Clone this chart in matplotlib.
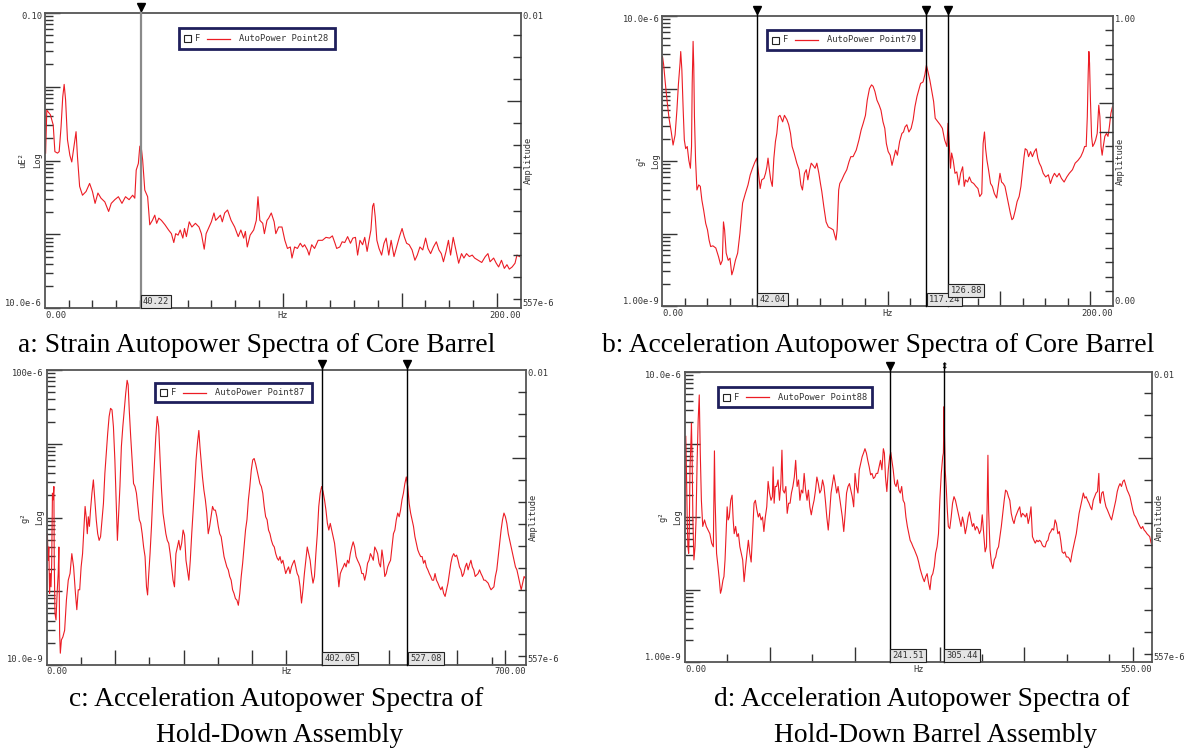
import numpy as np
import matplotlib
matplotlib.use("Agg")
import matplotlib.pyplot as plt
from matplotlib.patches import Rectangle
from matplotlib.lines import Line2D
from matplotlib.ticker import LogLocator, FixedLocator
from matplotlib.transforms import blended_transform_factory

W, H = 1185, 751
RED = "#ec1c24"
INK = "#333333"
MONO = "DejaVu Sans Mono"
SERIF = "Liberation Serif"
plt.rcParams["font.family"] = MONO

# ---- data (levels are log10 of the y value) ----
# a: strain, uE^2
a_freq = [0.3, 0.8, 2.3, 3.5, 4.2, 5.3, 6.0, 6.8, 7.5, 8.1,
          8.7, 9.5, 10.5, 11.3, 12.2, 13.1, 13.7, 14.6, 15.8, 17.3,
          18.8, 20.0, 21.1, 22.3, 23.6, 25.2, 26.8, 27.9, 29.4, 30.9,
          32.4, 33.9, 35.4, 36.9, 37.8, 38.4, 39.3, 39.9, 40.4, 41.1,
          42.0, 43.2, 44.1, 45.2, 46.2, 47.0, 47.9, 49.0, 50.5, 52.0,
          53.2, 54.2, 55.0, 56.0, 56.9, 58.0, 58.7, 59.5, 60.7, 61.8,
          63.3, 64.8, 65.8, 67.0, 67.8, 68.5, 70.0, 71.1, 71.8, 72.7,
          73.8, 74.6, 75.6, 76.8, 78.3, 79.8, 81.3, 82.4, 83.6, 84.3,
          85.1, 86.3, 87.8, 88.9, 89.6, 90.4, 91.6, 92.3, 93.4, 94.1,
          95.2, 96.4, 97.1, 98.3, 99.7, 100.9, 102.0, 103.2, 103.9, 105.0,
          106.2, 107.4, 108.4, 109.2, 110.4, 111.1, 112.2, 113.4, 114.9, 116.7,
          118.2, 119.7, 120.9, 122.0, 122.7, 124.0, 125.0, 126.1, 127.3, 128.5,
          129.5, 130.6, 131.5, 132.5, 133.6, 134.5, 135.5, 136.3, 137.1, 137.8,
          138.3, 138.9, 139.6, 140.5, 141.6, 142.6, 143.5, 144.6, 145.6, 146.8,
          147.9, 149.1, 150.2, 151.1, 152.1, 153.2, 154.4, 155.6, 156.6, 157.7,
          158.9, 160.1, 161.1, 162.2, 163.4, 164.6, 165.7, 166.7, 167.6, 168.7,
          169.7, 170.6, 171.7, 172.7, 174.0, 175.2, 176.2, 177.3, 178.5, 179.7,
          180.7, 182.2, 183.7, 185.2, 186.3, 187.2, 188.7, 189.8, 190.8, 192.0,
          193.2, 194.3, 195.3, 196.5, 197.7, 198.5, 199.6]
a_level = [-2.90, -2.32, -2.38, -2.52, -2.88, -2.90, -2.88, -2.54, -2.14, -1.97,
           -2.18, -2.72, -2.93, -3.02, -2.81, -2.61, -2.95, -3.35, -3.47, -3.42,
           -3.31, -3.42, -3.58, -3.44, -3.51, -3.56, -3.69, -3.58, -3.53, -3.49,
           -3.58, -3.49, -3.53, -3.47, -3.51, -3.13, -3.04, -2.81, -2.79, -2.99,
           -3.40, -3.49, -3.87, -3.81, -3.74, -3.85, -3.78, -3.81, -3.87, -3.94,
           -3.99, -4.11, -3.99, -4.01, -3.94, -4.05, -3.92, -4.03, -3.83, -3.90,
           -3.85, -3.90, -3.99, -4.20, -3.99, -3.94, -3.83, -3.71, -3.81, -3.78,
           -3.74, -3.83, -3.71, -3.67, -3.81, -3.90, -4.03, -3.94, -4.05, -3.96,
           -4.17, -4.01, -3.94, -3.81, -3.49, -3.81, -3.85, -3.99, -3.81, -3.78,
           -3.71, -3.83, -3.99, -3.90, -3.90, -4.08, -4.19, -4.17, -4.32, -4.17,
           -4.19, -4.12, -4.17, -4.14, -4.21, -4.28, -4.14, -4.19, -4.08, -4.08,
           -4.04, -4.05, -4.02, -4.12, -4.19, -4.17, -4.10, -4.11, -4.03, -4.12,
           -4.05, -4.04, -4.28, -4.08, -4.14, -4.04, -4.23, -4.08, -3.94, -3.62,
           -3.58, -3.76, -4.08, -4.19, -4.28, -4.12, -4.05, -4.28, -4.08, -4.30,
           -4.17, -4.03, -3.92, -4.03, -4.12, -4.14, -4.21, -4.35, -4.28, -4.17,
           -4.21, -4.05, -4.19, -4.26, -4.17, -4.10, -4.21, -4.26, -4.37, -4.23,
           -4.08, -4.28, -4.04, -4.19, -4.39, -4.26, -4.32, -4.26, -4.30, -4.28,
           -4.32, -4.35, -4.38, -4.30, -4.26, -4.37, -4.32, -4.39, -4.44, -4.35,
           -4.46, -4.41, -4.47, -4.44, -4.39, -4.28, -4.30]

# b: acceleration, core barrel, g^2
b_freq = [0.0, 0.5, 1.2, 2.0, 2.9, 3.9, 4.7, 5.6, 6.4, 7.1,
          7.8, 8.1, 8.6, 9.2, 9.7, 10.3, 11.0, 11.7, 12.4, 12.9,
          13.2, 13.6, 13.9, 14.2, 14.7, 15.3, 16.1, 16.8, 17.5, 18.3,
          19.2, 20.0, 20.7, 21.4, 22.4, 23.7, 24.9, 25.8, 26.6, 27.1,
          27.6, 28.3, 29.2, 30.0, 30.8, 31.5, 32.4, 33.4, 34.4, 35.6,
          36.8, 38.0, 39.0, 40.0, 41.0, 41.9, 42.5, 43.4, 44.1, 45.1,
          45.8, 46.4, 46.9, 47.5, 48.1, 48.8, 49.5, 50.2, 50.8, 51.5,
          52.2, 53.4, 54.2, 55.3, 56.1, 56.9, 57.6, 58.5, 59.7, 60.7,
          61.5, 62.2, 63.1, 63.9, 64.6, 65.4, 66.1, 66.9, 67.8, 68.6,
          69.5, 70.2, 70.8, 71.7, 72.7, 73.7, 74.9, 75.9, 77.1, 77.6,
          78.3, 78.8, 79.7, 80.7, 81.9, 82.9, 83.7, 84.7, 86.1, 87.3,
          88.3, 89.2, 90.2, 91.0, 92.0, 92.9, 93.6, 94.4, 95.3, 96.3,
          97.1, 98.0, 98.8, 99.5, 100.3, 101.2, 102.0, 102.9, 103.6, 104.4,
          105.4, 106.4, 107.1, 107.8, 108.6, 109.5, 110.5, 111.4, 112.2, 113.1,
          113.9, 114.7, 115.8, 116.6, 117.3, 118.0, 118.8, 119.7, 120.5, 121.2,
          122.4, 123.4, 124.4, 125.4, 126.4, 126.9, 127.5, 128.0, 128.5, 129.2,
          130.0, 130.8, 131.7, 132.5, 133.4, 134.1, 134.7, 135.6, 136.4, 137.3,
          138.3, 139.3, 140.2, 141.0, 141.9, 142.5, 143.1, 143.6, 144.2, 144.9,
          145.8, 146.6, 147.5, 148.5, 149.2, 150.0, 150.7, 151.4, 152.2, 153.1,
          153.7, 154.6, 155.3, 155.9, 156.8, 157.6, 158.5, 159.3, 160.2, 160.7,
          161.2, 162.0, 162.7, 163.6, 164.4, 165.3, 166.1, 166.8, 167.5, 168.3,
          169.2, 170.3, 171.5, 172.4, 173.4, 174.2, 175.3, 176.3, 177.3, 178.5,
          179.7, 180.8, 182.2, 183.4, 184.7, 185.9, 186.9, 187.6, 188.3, 188.8,
          189.2, 189.5, 189.8, 190.2, 190.7, 191.2, 191.9, 192.5, 193.2, 193.9,
          194.4, 194.9, 195.4, 195.9, 196.6, 197.3, 198.0, 198.6, 199.3, 200.0]
b_level = [-5.56, -5.67, -5.91, -6.16, -6.41, -6.60, -6.78, -6.64, -6.30, -5.93,
           -5.65, -5.49, -5.74, -6.30, -6.71, -6.83, -6.80, -6.99, -7.10, -6.80,
           -5.93, -5.35, -5.70, -6.39, -6.99, -7.40, -7.33, -7.35, -7.54, -7.68,
           -7.86, -7.95, -8.09, -8.18, -8.17, -8.20, -8.32, -8.43, -8.37, -7.84,
           -7.95, -8.27, -8.37, -8.34, -8.57, -8.50, -8.37, -8.27, -8.00, -7.58,
           -7.45, -7.33, -7.19, -7.10, -7.02, -6.96, -7.12, -7.38, -7.26, -7.24,
           -7.17, -7.08, -6.96, -7.12, -7.26, -7.35, -6.96, -6.73, -6.62, -6.39,
           -6.37, -6.46, -6.37, -6.43, -6.50, -6.62, -6.80, -6.89, -7.03, -7.12,
           -7.33, -7.40, -7.17, -7.12, -7.26, -7.12, -7.03, -7.06, -7.10, -7.03,
           -7.17, -7.31, -7.42, -7.63, -7.84, -7.91, -7.93, -7.95, -8.09, -7.95,
           -7.40, -7.31, -7.26, -7.19, -7.12, -7.01, -6.94, -6.94, -6.85, -6.71,
           -6.57, -6.48, -6.37, -6.16, -6.00, -5.95, -5.97, -6.04, -6.16, -6.23,
           -6.30, -6.46, -6.55, -6.76, -6.87, -6.92, -7.06, -6.94, -6.85, -6.92,
           -6.73, -6.62, -6.60, -6.53, -6.50, -6.60, -6.55, -6.43, -6.25, -6.11,
           -6.02, -5.93, -5.91, -5.81, -5.68, -5.77, -5.88, -6.04, -6.18, -6.41,
           -6.46, -6.50, -6.55, -6.71, -6.80, -6.48, -6.80, -7.10, -6.89, -6.99,
           -7.17, -7.15, -7.33, -7.17, -7.08, -7.35, -7.26, -7.29, -7.22, -7.29,
           -7.31, -7.35, -7.38, -7.49, -7.45, -6.76, -6.60, -6.83, -6.99, -7.12,
           -7.31, -7.35, -7.45, -7.51, -7.35, -7.17, -7.29, -7.31, -7.35, -7.49,
           -7.58, -7.72, -7.81, -7.79, -7.68, -7.56, -7.49, -7.35, -7.08, -6.94,
           -6.83, -6.85, -6.94, -6.87, -6.94, -6.87, -6.83, -6.96, -7.03, -7.08,
           -7.17, -7.22, -7.19, -7.31, -7.22, -7.17, -7.22, -7.17, -7.24, -7.29,
           -7.22, -7.17, -7.12, -7.03, -6.99, -6.94, -6.87, -6.80, -6.80, -6.39,
           -5.79, -5.49, -5.65, -6.16, -6.66, -6.80, -6.76, -6.71, -6.62, -6.23,
           -6.39, -6.80, -6.92, -6.80, -6.66, -6.62, -6.66, -6.53, -6.34, -6.25]

# c: acceleration, hold-down assembly, g^2
c_freq = [1.0, 2.1, 3.1, 4.2, 5.2, 6.3, 7.3, 8.4, 9.4, 10.5,
          11.0, 12.1, 13.6, 15.2, 16.8, 17.8, 18.9, 19.9, 21.5, 23.6,
          26.2, 28.8, 31.5, 34.1, 36.7, 39.3, 42.0, 44.0, 46.1, 48.2,
          50.3, 52.4, 54.5, 56.1, 57.7, 59.3, 60.8, 62.4, 64.0, 66.1,
          68.2, 70.3, 72.4, 74.5, 76.6, 78.7, 80.8, 82.9, 85.0, 87.0,
          89.1, 91.2, 93.3, 95.4, 97.5, 99.6, 101.7, 103.3, 104.9, 107.0,
          109.1, 111.2, 113.3, 115.4, 117.5, 119.0, 120.6, 122.7, 124.8, 126.9,
          129.0, 131.1, 133.2, 135.3, 137.4, 139.5, 141.6, 143.7, 145.8, 147.4,
          148.9, 151.0, 153.1, 155.2, 157.3, 159.4, 161.5, 163.6, 165.7, 167.8,
          169.9, 172.0, 174.1, 176.2, 178.3, 180.4, 182.5, 184.6, 186.7, 188.8,
          190.9, 193.0, 195.1, 197.2, 199.3, 201.4, 203.5, 205.6, 207.7, 209.8,
          211.9, 214.0, 216.1, 218.2, 220.3, 222.3, 223.9, 225.5, 227.6, 229.7,
          231.8, 233.9, 236.0, 238.1, 240.2, 242.3, 244.4, 246.5, 248.6, 250.7,
          252.8, 254.9, 257.0, 259.1, 261.1, 263.2, 265.3, 267.4, 269.5, 271.6,
          273.7, 275.8, 277.9, 280.0, 282.1, 284.2, 286.3, 288.4, 290.5, 292.6,
          294.7, 296.8, 298.9, 301.0, 303.1, 305.2, 307.3, 309.4, 311.5, 313.6,
          315.7, 317.8, 319.9, 322.0, 324.1, 326.2, 328.3, 330.4, 332.5, 334.6,
          336.7, 338.8, 340.9, 343.0, 345.1, 347.2, 349.2, 351.3, 353.4, 355.5,
          357.6, 359.7, 361.8, 363.9, 366.0, 368.1, 370.2, 372.3, 374.4, 376.5,
          378.6, 380.7, 382.8, 384.9, 387.0, 389.1, 391.2, 393.3, 395.4, 397.5,
          399.6, 401.7, 403.8, 405.9, 408.0, 410.1, 412.2, 414.3, 416.4, 418.5,
          420.6, 422.7, 424.8, 426.9, 429.0, 431.1, 433.2, 435.3, 437.4, 439.5,
          441.5, 443.6, 445.7, 447.8, 449.9, 452.0, 454.1, 456.2, 458.3, 460.4,
          462.5, 464.6, 466.7, 468.8, 470.9, 473.0, 475.1, 477.2, 479.3, 481.4,
          483.5, 485.6, 487.7, 489.8, 491.9, 494.0, 496.1, 498.2, 500.3, 502.4,
          504.5, 506.6, 508.7, 510.8, 512.9, 515.0, 517.0, 519.1, 521.2, 523.3,
          525.4, 527.5, 529.6, 531.7, 533.8, 535.9, 538.0, 540.1, 542.2, 544.3,
          546.4, 548.5, 550.6, 552.7, 554.8, 556.9, 559.0, 561.1, 563.2, 565.3,
          567.4, 569.5, 571.6, 573.7, 575.8, 577.9, 580.0, 582.1, 584.2, 586.3,
          588.4, 590.5, 592.6, 594.7, 596.8, 598.9, 601.0, 603.1, 605.2, 607.3,
          609.4, 611.5, 613.6, 615.7, 617.7, 619.8, 621.9, 624.0, 626.1, 628.2,
          630.3, 632.4, 634.5, 636.6, 638.7, 640.8, 642.9, 645.0, 647.1, 649.2,
          651.3, 653.4, 655.5, 657.6, 659.7, 661.8, 663.9, 666.0, 668.1, 670.2,
          672.3, 674.4, 676.5, 678.6, 680.7, 682.8, 684.9, 687.0, 689.1, 691.2,
          693.3, 695.4, 697.5, 700.0]
c_level = [-6.22, -6.58, -6.40, -7.03, -6.76, -6.94, -6.62, -5.67, -5.76, -5.58,
           -6.58, -7.30, -7.39, -7.03, -6.76, -6.40, -7.57, -7.84, -7.66, -7.62,
           -7.53, -7.12, -6.85, -6.76, -6.49, -6.67, -7.03, -7.25, -6.98, -6.98,
           -6.67, -6.49, -6.12, -5.85, -5.99, -6.22, -5.99, -6.12, -5.90, -5.67,
           -5.49, -5.76, -6.03, -6.22, -6.31, -6.26, -6.03, -5.81, -5.40, -5.13,
           -4.86, -4.63, -4.52, -4.54, -4.77, -5.22, -5.85, -6.31, -5.99, -5.58,
           -5.04, -4.77, -4.54, -4.32, -4.14, -4.20, -4.54, -4.90, -5.22, -5.54,
           -5.58, -5.67, -5.85, -6.03, -6.08, -6.22, -6.40, -6.53, -6.94, -7.05,
           -6.80, -6.49, -6.12, -5.67, -5.27, -4.90, -4.63, -4.77, -5.22, -5.63,
           -5.94, -6.08, -6.22, -6.31, -6.35, -6.49, -6.67, -6.85, -6.94, -6.49,
           -6.40, -6.31, -6.44, -6.35, -6.17, -6.24, -6.58, -6.71, -6.85, -6.58,
           -6.22, -5.90, -5.58, -5.22, -4.99, -4.82, -5.04, -5.22, -5.45, -5.63,
           -5.76, -5.94, -6.22, -6.12, -5.99, -5.85, -5.90, -5.90, -5.99, -6.12,
           -6.22, -6.26, -6.40, -6.53, -6.60, -6.67, -6.71, -6.80, -6.85, -6.98,
           -7.03, -7.10, -7.12, -7.19, -7.03, -6.80, -6.62, -6.40, -6.17, -6.03,
           -5.76, -5.58, -5.36, -5.22, -5.20, -5.27, -5.36, -5.45, -5.54, -5.58,
           -5.67, -5.85, -5.99, -6.03, -6.17, -6.22, -6.31, -6.37, -6.40, -6.49,
           -6.55, -6.58, -6.53, -6.62, -6.58, -6.67, -6.76, -6.71, -6.67, -6.76,
           -6.67, -6.62, -6.58, -6.67, -6.76, -6.80, -6.94, -7.16, -6.98, -6.76,
           -6.58, -6.40, -6.49, -6.58, -6.76, -6.89, -6.80, -6.49, -6.22, -5.85,
           -5.67, -5.58, -5.65, -5.76, -5.90, -6.08, -6.17, -6.08, -6.17, -6.26,
           -6.35, -6.53, -6.71, -6.94, -6.76, -6.71, -6.67, -6.62, -6.67, -6.58,
           -6.62, -6.49, -6.40, -6.33, -6.40, -6.53, -6.58, -6.62, -6.67, -6.76,
           -6.76, -6.85, -6.76, -6.62, -6.58, -6.49, -6.53, -6.58, -6.40, -6.44,
           -6.49, -6.62, -6.67, -6.44, -6.58, -6.80, -6.76, -6.67, -6.62, -6.58,
           -6.40, -6.22, -6.17, -6.03, -5.94, -5.99, -5.90, -5.76, -5.67, -5.54,
           -5.45, -5.58, -5.81, -5.94, -6.03, -6.12, -6.26, -6.35, -6.44, -6.49,
           -6.53, -6.53, -6.62, -6.58, -6.67, -6.71, -6.76, -6.80, -6.85, -6.85,
           -6.76, -6.85, -6.89, -6.94, -6.98, -6.94, -7.03, -7.07, -6.98, -6.89,
           -6.76, -6.62, -6.53, -6.49, -6.53, -6.51, -6.58, -6.67, -6.71, -6.80,
           -6.76, -6.67, -6.62, -6.71, -6.64, -6.58, -6.67, -6.71, -6.80, -6.78,
           -6.76, -6.71, -6.76, -6.80, -6.85, -6.85, -6.87, -6.89, -6.94, -6.98,
           -6.96, -6.94, -6.80, -6.71, -6.53, -6.35, -6.17, -6.03, -5.94, -5.99,
           -6.08, -6.22, -6.31, -6.40, -6.49, -6.58, -6.67, -6.71, -6.80, -6.89,
           -6.98, -6.89, -6.80, -6.83]

# d: acceleration, hold-down barrel assembly, g^2
d_freq = [0.8, 1.7, 2.5, 3.3, 4.2, 5.0, 5.8, 6.7, 7.5, 8.3,
          9.2, 10.4, 11.7, 12.9, 14.2, 15.4, 16.7, 17.9, 19.2, 20.8,
          22.9, 25.0, 27.1, 29.2, 31.3, 33.3, 34.6, 35.4, 37.1, 38.8,
          40.4, 41.7, 42.9, 44.6, 45.8, 47.1, 48.3, 49.6, 50.8, 52.1,
          53.8, 55.4, 56.7, 57.9, 59.6, 61.3, 62.9, 64.6, 66.3, 67.9,
          69.6, 71.3, 72.9, 74.6, 76.3, 77.9, 79.6, 81.3, 82.9, 84.6,
          86.3, 87.9, 89.6, 91.3, 92.9, 94.6, 96.3, 97.9, 99.6, 101.3,
          102.9, 103.8, 105.0, 106.3, 107.9, 109.6, 111.3, 112.9, 114.2, 115.4,
          117.1, 118.8, 120.4, 122.1, 123.8, 125.4, 127.1, 128.8, 130.4, 132.1,
          133.8, 135.4, 137.1, 138.8, 140.4, 142.1, 143.8, 145.4, 147.1, 148.8,
          150.4, 152.1, 153.8, 155.4, 157.1, 158.8, 160.4, 162.1, 163.8, 165.4,
          167.1, 168.8, 170.4, 172.1, 173.8, 175.4, 177.1, 178.8, 180.4, 182.1,
          183.8, 185.4, 187.1, 188.8, 190.4, 192.1, 193.8, 195.4, 197.1, 198.8,
          200.4, 202.1, 203.8, 205.4, 207.1, 208.8, 210.4, 212.1, 213.8, 215.4,
          217.1, 218.8, 220.4, 222.1, 223.8, 225.4, 227.1, 228.8, 230.4, 232.1,
          233.8, 235.0, 236.3, 237.9, 239.6, 241.3, 242.5, 243.8, 245.4, 247.1,
          248.8, 250.4, 252.1, 253.8, 255.4, 257.1, 258.8, 260.4, 262.1, 263.8,
          265.4, 267.1, 268.8, 270.4, 272.1, 273.8, 275.4, 277.1, 278.8, 280.4,
          282.1, 283.8, 285.4, 287.1, 288.8, 290.4, 292.1, 293.8, 295.4, 297.1,
          298.8, 300.4, 302.1, 303.8, 304.6, 305.4, 305.8, 306.7, 307.9, 309.2,
          310.4, 312.1, 313.8, 315.4, 317.1, 318.8, 320.4, 322.1, 323.8, 325.4,
          327.1, 328.8, 330.4, 332.1, 333.8, 335.4, 337.1, 338.8, 340.4, 342.1,
          343.8, 345.4, 347.1, 348.8, 350.4, 352.1, 353.8, 355.4, 357.1, 357.9,
          359.6, 361.3, 362.9, 364.6, 366.3, 367.9, 369.6, 371.3, 372.9, 374.6,
          376.3, 377.9, 379.6, 381.3, 382.9, 384.6, 386.3, 387.9, 389.6, 391.3,
          392.9, 394.6, 396.3, 397.9, 399.6, 401.3, 402.9, 404.6, 406.3, 407.9,
          409.6, 411.3, 412.9, 414.6, 416.3, 417.9, 419.6, 421.3, 422.9, 424.6,
          426.3, 427.9, 429.6, 431.3, 432.9, 434.6, 436.3, 437.9, 439.6, 441.3,
          442.9, 444.6, 446.3, 447.9, 449.6, 451.3, 452.9, 454.6, 456.3, 457.9,
          459.6, 461.3, 462.9, 464.6, 466.3, 467.9, 469.6, 471.3, 472.9, 474.6,
          476.3, 477.9, 479.6, 481.3, 482.9, 484.6, 486.3, 487.9, 488.8, 489.6,
          491.3, 492.9, 494.6, 496.3, 497.9, 499.6, 501.3, 502.9, 504.6, 506.3,
          507.9, 509.6, 511.3, 512.9, 514.6, 516.3, 517.9, 519.6, 521.3, 522.9,
          524.6, 526.3, 527.9, 529.6, 531.3, 532.9, 534.6, 536.3, 537.9, 539.6,
          541.3, 542.9, 544.6, 546.3, 547.9, 549.6]
d_level = [-5.89, -6.45, -7.04, -7.41, -7.50, -7.13, -6.31, -6.03, -5.71, -6.22,
           -7.04, -7.59, -7.41, -7.04, -6.22, -5.67, -5.32, -6.12, -6.77, -7.13,
           -7.04, -7.13, -7.18, -7.23, -7.36, -7.41, -6.09, -6.77, -7.50, -7.68,
           -7.87, -8.05, -8.00, -7.87, -7.82, -7.59, -7.23, -6.86, -7.04, -7.00,
           -6.77, -6.70, -7.04, -7.23, -7.13, -7.27, -7.23, -7.41, -7.50, -7.59,
           -7.89, -7.68, -7.50, -7.32, -7.50, -7.62, -7.23, -6.81, -6.77, -6.90,
           -7.00, -6.95, -7.04, -7.00, -7.20, -7.00, -6.86, -6.51, -6.67, -6.77,
           -6.72, -6.31, -6.81, -6.58, -6.58, -6.49, -6.77, -6.54, -6.08, -6.63,
           -6.67, -6.58, -6.95, -6.81, -6.81, -6.67, -6.58, -6.45, -6.22, -6.58,
           -6.49, -6.77, -6.63, -6.67, -6.40, -6.63, -6.77, -6.63, -6.86, -6.97,
           -6.86, -6.77, -6.63, -6.45, -6.54, -6.67, -6.63, -6.49, -6.58, -6.77,
           -7.00, -7.18, -6.95, -6.67, -6.54, -6.42, -6.54, -6.67, -6.58, -6.72,
           -6.86, -7.00, -7.20, -6.95, -6.67, -6.58, -6.54, -6.63, -6.72, -6.86,
           -6.40, -6.58, -6.67, -6.35, -6.26, -6.17, -6.12, -6.06, -6.12, -6.22,
           -6.31, -6.42, -6.40, -6.47, -6.45, -6.40, -6.40, -6.31, -6.22, -6.35,
           -6.06, -6.12, -6.45, -6.65, -6.35, -6.17, -6.11, -6.22, -6.35, -6.54,
           -6.58, -6.49, -6.63, -6.67, -6.58, -6.77, -6.81, -7.00, -7.13, -7.23,
           -7.32, -7.36, -7.41, -7.45, -7.50, -7.55, -7.62, -7.71, -7.78, -7.84,
           -7.89, -7.82, -7.78, -7.91, -8.00, -7.82, -7.78, -7.68, -7.50, -7.41,
           -7.23, -6.77, -6.40, -6.17, -6.12, -5.48, -5.85, -6.35, -6.58, -6.90,
           -7.13, -7.16, -7.00, -6.81, -6.72, -6.77, -6.86, -6.95, -7.04, -7.13,
           -7.00, -7.09, -7.23, -7.13, -7.00, -6.93, -7.04, -7.13, -7.09, -7.18,
           -7.13, -7.16, -7.23, -7.18, -6.97, -7.23, -7.48, -7.41, -6.15, -6.90,
           -7.45, -7.64, -7.71, -7.59, -7.55, -7.45, -7.41, -7.27, -7.13, -6.95,
           -6.77, -6.63, -6.65, -6.72, -6.77, -6.95, -7.04, -7.09, -7.00, -6.95,
           -6.90, -6.86, -7.00, -6.95, -6.97, -7.00, -6.95, -7.09, -7.00, -6.86,
           -7.27, -7.32, -7.36, -7.32, -7.34, -7.32, -7.34, -7.39, -7.41, -7.41,
           -7.34, -7.32, -7.23, -7.20, -7.16, -7.18, -7.04, -7.09, -7.23, -7.20,
           -7.32, -7.48, -7.50, -7.48, -7.55, -7.55, -7.57, -7.62, -7.50, -7.41,
           -7.32, -7.23, -7.09, -6.95, -6.86, -6.77, -6.67, -6.74, -6.72, -6.77,
           -6.81, -6.86, -6.90, -6.77, -6.72, -6.67, -6.65, -6.40, -6.77, -6.81,
           -6.67, -6.65, -6.77, -6.86, -6.90, -6.95, -7.00, -7.04, -6.95, -6.86,
           -6.77, -6.65, -6.58, -6.54, -6.58, -6.51, -6.49, -6.56, -6.63, -6.67,
           -6.72, -6.81, -6.90, -6.97, -7.00, -7.04, -7.09, -7.13, -7.16, -7.13,
           -7.18, -7.20, -7.23, -7.25, -7.27, -7.36]

# right-hand amplitude ticks (fractions of axis height)
r_log_short = [0.925, 0.851, 0.776, 0.627, 0.552, 0.478, 0.403, 0.329, 0.254, 0.179, 0.105, 0.030]
r_lin_short = [0.05, 0.10, 0.15, 0.20, 0.25, 0.30, 0.35, 0.40, 0.45, 0.50, 0.55, 0.65, 0.75, 0.80, 0.85, 0.90, 0.95]

fig = plt.figure(figsize=(W / 100, H / 100), dpi=100)


def fx(x):
    return x / W


def fy(y):
    return 1 - y / H


def ftext(x, y, s, **kw):
    kw.setdefault("fontsize", 6.3)
    kw.setdefault("color", INK)
    kw.setdefault("family", MONO)
    fig.text(fx(x), fy(y), s, **kw)


def draw_panel(box, freq, level, xmax, ydec, left_ends, right_ends, unit,
               legend_box, legend_name, cursors, x_long, x_short,
               r_long, r_short, cur_color="black", cur_lw=1.0):
    x0, y0, x1, y1 = box
    h = y1 - y0
    ax = fig.add_axes([fx(x0), fy(y1), (x1 - x0) / W, h / H])
    ax2 = ax.twinx()
    ax.plot(freq, 10.0 ** np.asarray(level), color=RED, lw=0.8, zorder=2)
    ax.set_yscale("log")
    ax.set_xlim(0, xmax)
    ax.set_ylim(10.0 ** ydec[0], 10.0 ** ydec[1])
    ax.yaxis.set_major_locator(LogLocator(base=10, numticks=12))
    ax.yaxis.set_minor_locator(LogLocator(base=10, subs=np.arange(2, 10), numticks=12))
    ax.xaxis.set_major_locator(FixedLocator(x_long))
    ax.xaxis.set_minor_locator(FixedLocator(x_short))
    ax.tick_params(which="both", direction="in", color=INK, width=1.0,
                   labelbottom=False, labelleft=False, top=False, right=False)
    ax.tick_params(which="major", length=11)
    ax.tick_params(which="minor", length=5.5)
    for s in ax.spines.values():
        s.set_color("#555555")
        s.set_linewidth(1.3)

    ax2.set_ylim(0, 1)
    ax2.yaxis.set_major_locator(FixedLocator(r_long))
    ax2.yaxis.set_minor_locator(FixedLocator(r_short))
    ax2.tick_params(which="both", direction="in", color=INK, width=1.0, labelright=False)
    ax2.tick_params(which="major", length=10)
    ax2.tick_params(which="minor", length=6)
    for s in ax2.spines.values():
        s.set_visible(False)

    # cursors
    blend = blended_transform_factory(ax.transData, ax.transAxes)
    for value, label, lift, mark in cursors:
        ax.plot([value, value], [0, 1 + 9 / h], transform=blend, color=cur_color,
                lw=cur_lw, clip_on=False, zorder=4)
        if mark == "v":
            ax.plot([value], [1 + 6 / h], transform=blend, marker="v", ms=5.5,
                    color="black", clip_on=False, zorder=5)
        else:
            ax.text(value, 1 + 1 / h, mark, transform=blend, ha="center", va="bottom",
                    fontsize=6.5, family="DejaVu Sans", clip_on=False)
        ax.annotate(label, xy=(value, lift / h), xycoords=blend, xytext=(2.5, 2),
                    textcoords="offset pixels", ha="left", va="bottom", fontsize=6.3,
                    color=INK, zorder=6,
                    bbox=dict(boxstyle="square,pad=0.25", fc="#e4e4e4", ec="#222222", lw=0.8))

    # axis end labels
    mid = (y0 + y1) / 2
    ftext(x0 - 3, y0 + 4, left_ends[0], ha="right", va="center")
    ftext(x0 - 3, y1 - 5, left_ends[1], ha="right", va="center")
    ftext(x1 + 2, y0 + 4, right_ends[0], ha="left", va="center")
    ftext(x1 + 2, y1 - 5, right_ends[1], ha="left", va="center")
    ftext(x0, y1 + 7, "0.00", ha="left", va="center")
    ftext((x0 + x1) / 2, y1 + 7, "Hz", ha="center", va="center")
    ftext(x1, y1 + 7, "%.2f" % xmax, ha="right", va="center")
    ftext(x0 - 22, mid, unit, rotation=90, ha="center", va="center")
    ftext(x0 - 7, mid, "Log", rotation=90, ha="center", va="center")
    ftext(x1 + 8, mid, "Amplitude", rotation=90, ha="center", va="center")

    # legend box
    lx0, ly0, lx1, ly1 = legend_box
    cy = (ly0 + ly1) / 2
    fig.add_artist(Rectangle((fx(lx0), fy(ly1)), (lx1 - lx0) / W, (ly1 - ly0) / H,
                             transform=fig.transFigure, fc="white", ec="#1f1f5c",
                             lw=2.0, zorder=6))
    fig.add_artist(Rectangle((fx(lx0 + 5), fy(cy + 3.5)), 7 / W, 7 / H,
                             transform=fig.transFigure, fc="white", ec="#222222",
                             lw=0.8, zorder=7))
    ftext(lx0 + 16, cy, "F", ha="left", va="center", zorder=7)
    fig.add_artist(Line2D([fx(lx0 + 28), fx(lx0 + 51)], [fy(cy), fy(cy)],
                          transform=fig.transFigure, color=RED, lw=0.9, zorder=7))
    ftext(lx0 + 60, cy, legend_name, ha="left", va="center", zorder=7)
    return ax


draw_panel((44.9, 12.7, 520.5, 308.3), a_freq, a_level, 200, (-5, -1),
           ("0.10", "10.0e-6"), ("0.01", "557e-6"), "uE\u00b2",
           (178.7, 28.3, 334.5, 49.3), "AutoPower Point28",
           [(40.22, "40.22", 0, "v")],
           [100, 150, 190], [10, 20, 30, 40, 50, 60, 70, 80, 90, 110, 120, 130, 140, 160, 170, 180],
           [0.702], r_log_short, cur_color="#8a8a8a", cur_lw=1.6)

draw_panel((662.5, 16, 1112.5, 306), b_freq, b_level, 200, (-9, -5),
           ("10.0e-6", "1.00e-9"), ("1.00", "0.00"), "g\u00b2",
           (767.3, 30, 921, 50), "AutoPower Point79",
           [(42.04, "42.04", 0, "v"), (117.24, "117.24", 0, "v"), (126.88, "126.88", 9.3, "v")],
           [100, 150, 190], [10, 20, 30, 40, 50, 60, 70, 80, 90, 110, 120, 130, 140, 160, 170, 180],
           [0.70, 0.60], r_lin_short)

draw_panel((46.7, 370, 525.8, 665), c_freq, c_level, 700, (-8, -4),
           ("100e-6", "10.0e-9"), ("0.01", "557e-6"), "g\u00b2",
           (155.4, 382.7, 312.3, 402.3), "AutoPower Point87",
           [(402.05, "402.05", 0, "v"), (527.08, "527.08", 0, "v")],
           [100, 200, 300, 350, 500, 600, 670], [50, 150, 250, 450, 550, 650],
           [0.702], r_log_short)

draw_panel((685.1, 371.7, 1151.5, 662.3), d_freq, d_level, 550, (-9, -5),
           ("10.0e-6", "1.00e-9"), ("0.01", "557e-6"), "g\u00b2",
           (718.2, 386.7, 871.9, 407.3), "AutoPower Point88",
           [(241.51, "241.51", 0, "v"), (305.44, "305.44", 0, "\u21d5")],
           [100, 200, 300, 400, 528], [50, 150, 250, 350, 450, 500],
           [0.702], r_log_short)

# captions
cap = dict(ha="center", va="center", family=SERIF, fontsize=19.8, color="black")
fig.text(fx(257), fy(345), "a: Strain Autopower Spectra of Core Barrel", **cap)
fig.text(fx(878), fy(345), "b: Acceleration Autopower Spectra of Core Barrel", **cap)
fig.text(fx(276), fy(700), "c: Acceleration Autopower Spectra of", **cap)
fig.text(fx(280), fy(736), "Hold-Down Assembly", **cap)
fig.text(fx(922), fy(700), "d: Acceleration Autopower Spectra of", **cap)
fig.text(fx(935), fy(736), "Hold-Down Barrel Assembly", **cap)

fig.savefig("out.png", dpi=100)
